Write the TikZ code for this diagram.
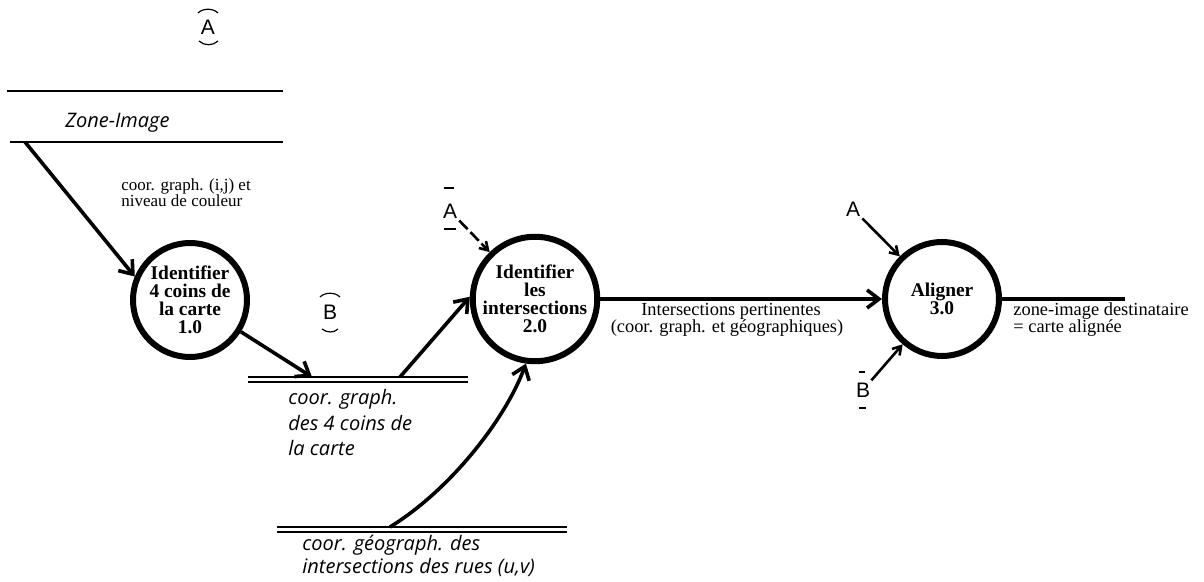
\documentclass[tikz,border=0pt]{standalone}
\usepackage{fontspec}
\setmainfont{Liberation Serif}
\newfontfamily\storefont{Open Sans}
\newfontfamily\letterfont{Liberation Sans}
\usetikzlibrary{arrows.meta}
\begin{document}
\begin{tikzpicture}[x=0.5pt,y=-0.5pt,
  proc/.style={circle, draw, line width=3pt, minimum size=57pt, inner sep=0pt, align=center,
    font=\bfseries\fontsize{9.7}{9}\selectfont},
  storeline/.style={line width=0.9pt},
  storetext/.style={anchor=base west, inner sep=0pt, font=\storefont\itshape\fontsize{10}{12}\selectfont},
  lbl/.style={anchor=base west, inner sep=0pt, font=\fontsize{8.5}{8}\selectfont},
  lblb/.style={anchor=base west, inner sep=0pt, font=\fontsize{9.2}{9}\selectfont},
  clbl/.style={anchor=base, inner sep=0pt, font=\fontsize{9.2}{9}\selectfont},
  conn/.style={font=\letterfont\fontsize{10.5}{12}\selectfont, inner sep=1pt},
  tick/.style={line width=0.6pt},
  flow/.style={line width=1.8pt, -{Straight Barb[length=6pt,width=9pt]}},
  ctl/.style={line width=1.3pt, -{Straight Barb[length=4pt,width=5pt]}},
  outline/.style={line width=1.8pt}
]
\useasboundingbox (0,0) rectangle (1204,582);

% processes
\node[proc] (c1) at (190,300) {Identifier\\4 coins de\\la carte\\1.0};
\node[proc] (c2) at (535,299) {Identifier\\les\\intersections\\2.0};
\node[proc] (c3) at (942,299) {Aligner\\3.0};

% connector letters
\node[conn] (a1) at (208,27) {A};
\draw[tick] (198,13) .. controls (203,8) and (213,8) .. (218,13);
\draw[tick] (199,41) .. controls (204,46) and (213,46) .. (218,41);
\node[conn] (b1) at (330,312) {B};
\draw[tick] (320,297) .. controls (325,292) and (335,292) .. (340,297);
\draw[tick] (322,329) .. controls (327,333) and (334,333) .. (338,329);
\node[conn] (a2) at (450,211) {A};
\draw[tick] (444,188) -- (454,188);
\draw[tick] (444,229) -- (456,229);
\node[conn] (a3) at (853,209) {A};
\node[conn] (b2) at (863,390) {B};
\draw[tick] (859,372) -- (865,372);
\draw[tick] (859,408) -- (866,408);

% stores
\draw[storeline] (7,91) -- (283,91);
\draw[storeline] (10,142) -- (283,142);
\node[storetext] (zi) at (65,128) {Zone-Image};
\coordinate (z1) at (25,142);

\draw[storeline] (248,377) -- (468,377);
\draw[storeline] (248,382) -- (468,382);
\coordinate (s2a) at (312,377);
\coordinate (s2b) at (400,377);
\node[storetext] (t21) at (288,405) {coor. graph.};
\node[storetext] (t22) at (288,430) {des 4 coins de};
\node[storetext] (t23) at (288,455) {la carte};

\draw[storeline] (277,527) -- (567,527);
\draw[storeline] (277,532) -- (567,532);
\coordinate (s3a) at (390,527);
\node[storetext] (t31) at (302,550) {coor. géograph. des};
\node[storetext] (t32) at (302,573) {intersections des rues (u,v)};

\coordinate (out) at (1125,299);

% labels
\node[lbl] (l11) at (121,191) {coor. graph. (i,j) et};
\node[lbl] (l12) at (121,207) {niveau de couleur};
\node[clbl] (l21) at (731,316) {Intersections pertinentes};
\node[clbl] (l22) at (727,333) {(coor. graph. et géographiques)};
\node[lblb] (l31) at (1013,316) {zone-image destinataire};
\node[lblb] (l32) at (1013,333) {= carte alignée};

% flows
\draw[flow] (z1) -- (c1.157);
\draw[flow] (c1.-32) -- (s2a);
\draw[flow] (s2b) -- (c2.178);
\draw[flow] (s3a) .. controls (450,490) and (505,420) .. (c2.-98);
\draw[flow] (c2) -- (c3);
\draw[outline] (c3) -- (out);

% control arrows
\draw[ctl, dash pattern=on 6pt off 2pt] (a2) -- (c2);
\draw[ctl] (a3) -- (c3);
\draw[ctl] (b2) -- (c3);
\end{tikzpicture}
\end{document}
